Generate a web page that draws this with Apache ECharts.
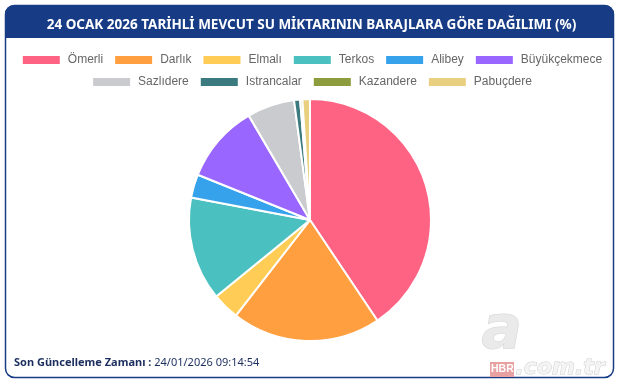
<!DOCTYPE html>
<html>
<head>
<meta charset="utf-8">
<script src="https://cdn.jsdelivr.net/npm/echarts@6/dist/echarts.min.js"></script>
<style>
html,body{margin:0;padding:0;background:#fff;}
#c{width:623px;height:390px;}
</style>
</head>
<body>
<div id="c"></div>
<script>
const titleText = '24 OCAK 2026 TARİHLİ MEVCUT SU MİKTARININ BARAJLARA GÖRE DAĞILIMI (%)';
const footerLabel = 'Son Güncelleme Zamanı :';
const footerValue = ' 24/01/2026 09:14:54';
const categories = ['Ömerli','Darlık','Elmalı','Terkos','Alibey','Büyükçekmece','Sazlıdere','Istrancalar','Kazandere','Pabuçdere'];
const values = [40.4, 19.8, 3.6, 13.8, 3.1, 10.4, 6.3, 0.8, 0.3, 1.0];
const colors = ['#ff6384','#ff9f40','#ffcd56','#4bc0c0','#36a2eb','#9966ff','#c9cbcf','#3b7a7e','#8d9d3d','#e9cf80'];

const chart = echarts.init(document.getElementById('c'), null, {renderer:'canvas'});
const navy = '#173c85';
const data = categories.map((n,i)=>({name:n, value:values[i], itemStyle:{color:colors[i]}}));

const legendCommon = {
  orient:'horizontal', left:'center', itemWidth:39, itemHeight:10, itemGap:10,
  icon:'rect',
  textStyle:{fontFamily:'Liberation Sans, Arial', fontSize:12, color:'#666', padding:[0,0,0,2]},
  selectedMode:false
};

chart.setOption({
  animation:false,
  graphic:[
    {type:'rect', z:-10, shape:{x:5.5, y:5.5, width:608, height:372, r:9}, style:{fill:'#fff', stroke:navy, lineWidth:1.5}},
    {type:'rect', z:-9, shape:{x:5, y:5, width:609, height:33, r:[9,9,0,0]}, style:{fill:navy}},
    {type:'text', z:5, left:14, top:357, style:{
      text:'{b|'+footerLabel+'}{n|'+footerValue+'}',
      rich:{
        b:{fontFamily:'Noto Sans', fontWeight:'bold', fontSize:11, fill:'#1b2e5e'},
        n:{fontFamily:'Noto Sans', fontSize:11, fill:'#1b2e5e'}
      }
    }},
    {type:'text', z:1, left:481, top:302, style:{text:'a', fontFamily:'DejaVu Sans', fontWeight:'bold', fontStyle:'italic', fontSize:60, fill:'#e8e8e8', stroke:'#d2d2d2', lineWidth:1, opacity:0.9}},
    {type:'text', z:1, left:515, top:357, style:{text:'.com.tr', fontFamily:'DejaVu Sans', fontWeight:'bold', fontStyle:'italic', fontSize:22, fill:'#f4f4f4', stroke:'#cfcfcf', lineWidth:1}},
    {type:'rect', z:3, shape:{x:490, y:362, width:24, height:15}, style:{fill:'#e8a0a0'}},
    {type:'text', z:4, left:491, top:364, style:{text:'HBR', fontFamily:'Liberation Sans', fontWeight:'bold', fontSize:10.5, fill:'#fff'}}
  ],
  title:{
    text:titleText, left:'center', top:13,
    textStyle:{fontFamily:'Noto Sans', fontWeight:'bold', fontSize:13.5, color:'#fff'}
  },
  legend:[
    Object.assign({top:49, data:categories.slice(0,6)}, legendCommon),
    Object.assign({top:71, data:categories.slice(6)}, legendCommon)
  ],
  series:[{
    type:'pie',
    center:[310,220],
    radius:[0,121],
    startAngle:90,
    clockwise:true,
    label:{show:false},
    labelLine:{show:false},
    emphasis:{disabled:true},
    itemStyle:{borderColor:'#fff', borderWidth:2},
    data:data
  }]
});
</script>
</body>
</html>
